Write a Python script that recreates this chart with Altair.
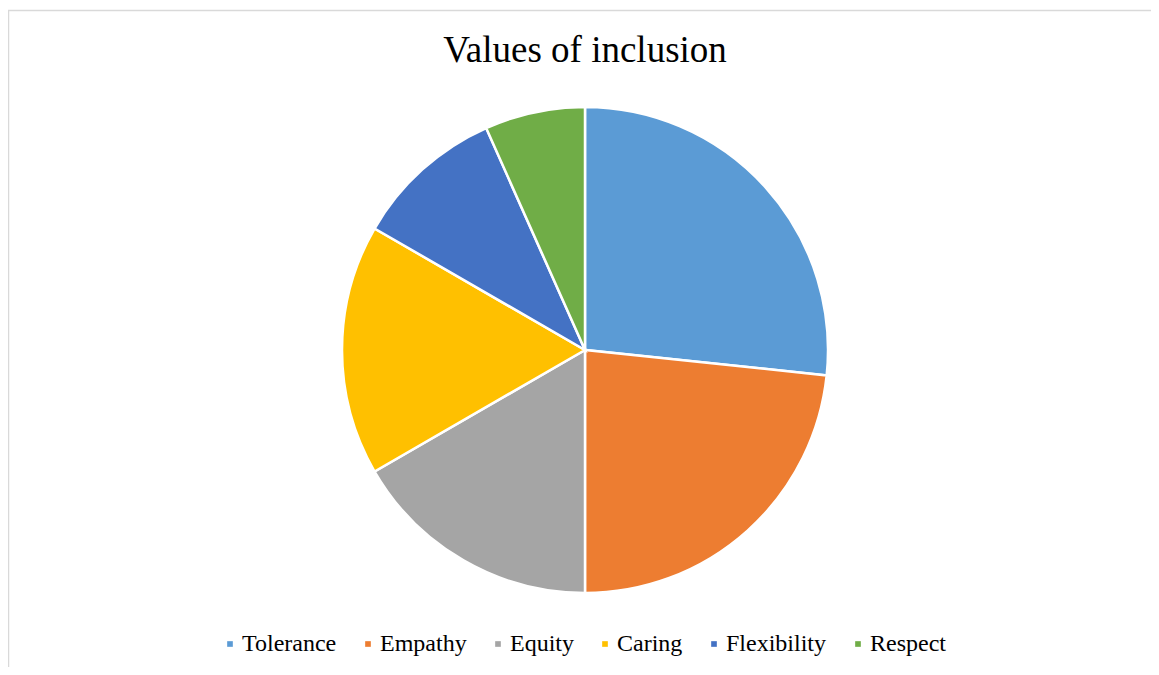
import altair as alt
import pandas as pd

categories = ["Tolerance", "Empathy", "Equity", "Caring", "Flexibility", "Respect"]
values = [8, 7, 5, 5, 3, 2]
colors = ["#5B9BD5", "#ED7D31", "#A5A5A5", "#FFC000", "#4472C4", "#70AD47"]
title_text = ["Values of inclusion"]

df = pd.DataFrame({"category": categories, "value": values, "order": list(range(len(categories)))})
tdf = pd.DataFrame({"t": title_text})
bdf = pd.DataFrame({"k": [0]})

W, H = 1143, 657
CX, CY = 577, 340

pie = alt.Chart(df).mark_arc(radius=243, stroke="white", strokeWidth=2.5).encode(
    theta=alt.Theta("value:Q", stack=True),
    order=alt.Order("order:Q"),
    color=alt.Color(
        "category:N",
        sort=categories,
        scale=alt.Scale(domain=categories, range=colors),
        legend=alt.Legend(
            title=None,
            orient="none",
            direction="horizontal",
            legendX=210,
            legendY=622,
            symbolType="square",
            symbolSize=32,
            symbolStrokeWidth=0,
            labelFont="Liberation Serif",
            labelFontSize=24,
            labelColor="#000000",
            labelOffset=0,
            columnPadding=19,
            labelLimit=300,
        ),
    ),
    x=alt.value(CX),
    y=alt.value(CY),
)

title = alt.Chart(tdf).mark_text(
    font="Liberation Serif", fontSize=37, color="#000000", baseline="middle", align="center"
).encode(text="t:N", x=alt.value(CX), y=alt.value(41))

border_left = alt.Chart(bdf).mark_rule(color="#D9D9D9", strokeWidth=1.5).encode(
    x=alt.value(0.5), y=alt.value(0), y2=alt.value(H)
)
border_top = alt.Chart(bdf).mark_rule(color="#D9D9D9", strokeWidth=1.5).encode(
    y=alt.value(0.5), x=alt.value(0), x2=alt.value(W)
)

chart = alt.layer(border_left, border_top, pie, title).properties(
    width=W, height=H,
    padding={"left": 0, "top": 2, "right": 0, "bottom": 0},
    autosize=alt.AutoSizeParams(type="none"),
    background="white",
).configure_view(stroke=None)

chart.save("out.html", embed_options={"renderer": "svg", "actions": False})
